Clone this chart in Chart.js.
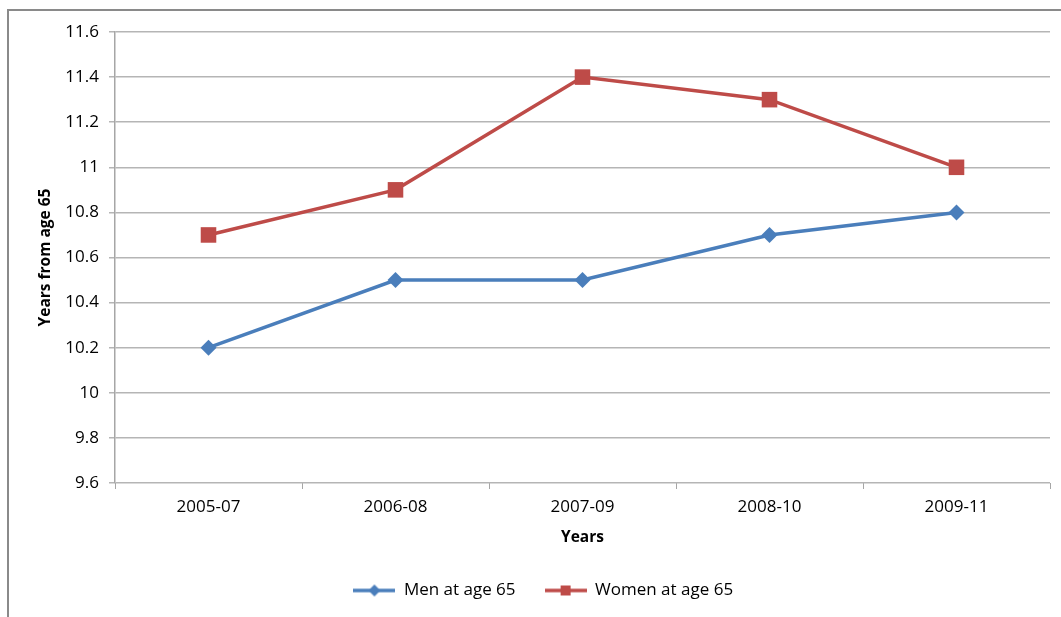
<!DOCTYPE html>
<html>
<head>
<meta charset="utf-8">
<script src="https://cdn.jsdelivr.net/npm/chart.js@4/dist/chart.umd.min.js"></script>
<style>
  html, body { margin: 0; padding: 0; background: #fff; }
  #wrap { width: 1061px; height: 617px; position: relative; }
</style>
</head>
<body>
<div id="wrap"><canvas id="chart"></canvas></div>
<script>
const categories = ['2005-07', '2006-08', '2007-09', '2008-10', '2009-11'];
const menValues = [10.2, 10.5, 10.5, 10.7, 10.8];
const womenValues = [10.7, 10.9, 11.4, 11.3, 11.0];
const yTicks = [9.6, 9.8, 10, 10.2, 10.4, 10.6, 10.8, 11, 11.2, 11.4, 11.6];

const BLUE = '#4A7EBB';
const RED = '#BE4B48';
const FONT = "'Open Sans', 'Liberation Sans', sans-serif";

// legend swatch: short line with the marker in the middle
function swatch(color, shape) {
  const c = document.createElement('canvas');
  c.width = 42; c.height = 16;
  const g = c.getContext('2d');
  g.strokeStyle = color;
  g.lineWidth = 3.5;
  g.beginPath(); g.moveTo(0, 8); g.lineTo(42, 8); g.stroke();
  g.fillStyle = color;
  if (shape === 'diamond') {
    g.beginPath(); g.moveTo(21, 2); g.lineTo(27, 8); g.lineTo(21, 14); g.lineTo(15, 8); g.closePath(); g.fill();
  } else {
    g.fillRect(16, 3, 10, 10);
  }
  return c;
}

const framePlugin = {
  id: 'frame',
  beforeDraw(chart) {
    const ctx = chart.ctx;
    ctx.save();
    ctx.strokeStyle = '#8a8a8a';
    ctx.lineWidth = 2;
    ctx.beginPath();
    ctx.moveTo(8, 617);
    ctx.lineTo(8, 10);
    ctx.lineTo(1061, 10);
    ctx.stroke();
    ctx.restore();
  }
};

// legend sits a bit right of centre in the original
const legendShift = {
  id: 'legendShift',
  afterLayout(chart) {
    chart.legend.left += 17;
    chart.legend.right += 17;
  }
};

new Chart(document.getElementById('chart'), {
  type: 'line',
  data: {
    labels: categories,
    datasets: [
      {
        label: 'Men at age 65',
        data: menValues,
        borderColor: BLUE,
        backgroundColor: BLUE,
        borderWidth: 3.5,
        pointStyle: 'rectRot',
        pointRadius: 8,
        pointBorderWidth: 0,
        tension: 0
      },
      {
        label: 'Women at age 65',
        data: womenValues,
        borderColor: RED,
        backgroundColor: RED,
        borderWidth: 3.5,
        pointStyle: 'rect',
        pointRadius: 11,
        pointBorderWidth: 0,
        tension: 0
      }
    ]
  },
  options: {
    responsive: true,
    maintainAspectRatio: false,
    animation: false,
    devicePixelRatio: 1,
    layout: { padding: { top: 32, right: 8.5, left: 0, bottom: 8 } },
    plugins: {
      tooltip: { enabled: false },
      legend: {
        position: 'bottom',
        labels: {
          font: { family: FONT, size: 17 },
          color: '#000',
          padding: 29,
          usePointStyle: true,
          pointStyleWidth: 42,
          boxHeight: 16,
          generateLabels(chart) {
            return chart.data.datasets.map((ds, i) => ({
              text: ds.label,
              datasetIndex: i,
              pointStyle: swatch(ds.borderColor, i === 0 ? 'diamond' : 'square'),
              fillStyle: ds.borderColor,
              strokeStyle: ds.borderColor,
              lineWidth: 0,
              fontColor: '#000'
            }));
          }
        }
      }
    },
    scales: {
      x: {
        offset: true,
        afterFit(s) { s.height = 70; },
        grid: { offset: true, drawOnChartArea: false, drawTicks: true, tickLength: 6, color: '#a6a6a6' },
        border: { display: false },
        ticks: { font: { family: FONT, size: 17 }, color: '#000', padding: 8 },
        title: {
          display: true, text: 'Years', color: '#000',
          font: { family: FONT, size: 15.5, weight: 'bold' },
          padding: { top: 0, bottom: 6 }
        }
      },
      y: {
        min: 9.6,
        max: 11.6,
        afterFit(s) { s.width = 115; },
        afterBuildTicks(s) { s.ticks = yTicks.map(v => ({ value: v })); },
        grid: { color: '#b5b5b5', lineWidth: 1.5, tickLength: 6 },
        border: { display: true, color: '#a6a6a6', width: 1.5 },
        ticks: {
          font: { family: FONT, size: 17 }, color: '#000', padding: 10,
          callback: v => String(Math.round(v * 10) / 10)
        },
        title: {
          display: true, text: 'Years from age 65', color: '#000',
          font: { family: FONT, size: 15.5, weight: 'bold' },
          padding: { top: 36, bottom: 0 }
        }
      }
    }
  },
  plugins: [framePlugin, legendShift]
});
</script>
</body>
</html>
